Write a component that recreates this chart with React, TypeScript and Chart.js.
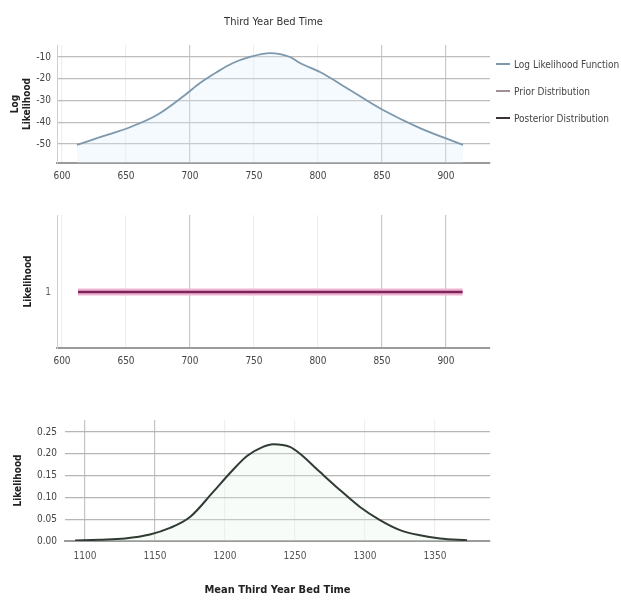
import React, { useEffect, useRef } from "react";
import { Chart, registerables } from "chart.js";

Chart.register(...registerables);

// ---- data ----
const TITLE = "Third Year Bed Time";
const SERIES_NAMES = ["Log Likelihood Function", "Prior Distribution", "Posterior Distribution"];
const SERIES_COLORS = ["#7d98ad", "#a48e98", "#3b3434"];

const TOP_X_TICKS = [600, 650, 700, 750, 800, 850, 900];
const TOP_Y_TICKS = [-10, -20, -30, -40, -50];
const LOGLIK_X = [611.7, 629.7, 653.1, 674.2, 696.1, 707.8, 721.1, 733.6, 746.9, 762.5, 778.1, 785.9, 801.6, 825.0, 850.8, 879.7, 913.3];
const LOGLIK_Y = [-50.4, -46.9, -42.3, -36.7, -27.5, -22.0, -16.9, -12.8, -10.0, -8.2, -10.0, -12.8, -16.9, -25.2, -34.4, -42.7, -50.4];

const MID_Y_TICKS = [1];
const PRIOR_X = [612.5, 913.0];
const PRIOR_Y = [1, 1];

const BOTTOM_X_TICKS = [1100, 1150, 1200, 1250, 1300, 1350];
const BOTTOM_Y_TICKS = [0, 0.05, 0.1, 0.15, 0.2, 0.25];
const POST_X = [1092.9, 1110.7, 1128.6, 1146.4, 1160.7, 1175.0, 1191.4, 1203.6, 1215.7, 1227.1, 1234.3, 1246.4, 1253.6, 1267.9, 1282.1, 1296.4, 1310.7, 1325.0, 1339.3, 1353.6, 1372.9];
const POST_Y = [0.001, 0.003, 0.006, 0.015, 0.03, 0.055, 0.112, 0.156, 0.195, 0.216, 0.222, 0.216, 0.2, 0.158, 0.117, 0.078, 0.048, 0.025, 0.013, 0.006, 0.002];

const Y_TITLE_TOP = ["Log", "Likelihood"];
const Y_TITLE_MID = "Likelihood";
const Y_TITLE_BOTTOM = "Likelihood";
const X_TITLE_BOTTOM = "Mean Third Year Bed Time";

const FONT = "'Liberation Sans Narrow', 'DejaVu Sans Condensed', 'Liberation Sans', sans-serif";

const toPts = (xs: number[], ys: number[]) => xs.map((x, i) => ({ x, y: ys[i] }));

const titlePlugin = {
  id: "centerTitle",
  afterDraw(chart: any) {
    const t = chart.options.plugins.centerTitle;
    if (!t || !t.text) return;
    const ctx = chart.ctx;
    const a = chart.chartArea;
    ctx.save();
    ctx.font = `11px ${FONT}`;
    ctx.fillStyle = "#333";
    ctx.textAlign = "center";
    ctx.textBaseline = "middle";
    ctx.fillText(t.text, (a.left + a.right) / 2, t.y);
    ctx.restore();
  },
};

function makeChart(canvas: HTMLCanvasElement, cfg: any) {
  return new Chart(canvas, { ...cfg, plugins: [titlePlugin] });
}

const tickFont = { family: FONT, size: 10 };
const axisTitleFont = { family: FONT, size: 10, weight: "bold" as const };

export default function App() {
  const c1 = useRef<HTMLCanvasElement>(null);
  const c2 = useRef<HTMLCanvasElement>(null);
  const c3 = useRef<HTMLCanvasElement>(null);

  useEffect(() => {
    const topVGrid = (ctx: any) => ([2, 5, 6].includes(ctx.index) ? "#c9c9c9" : "#efefef");
    const commonTopX = (min: number, max: number) => ({
      type: "linear",
      min,
      max,
      afterBuildTicks: (s: any) => {
        s.ticks = TOP_X_TICKS.map((v) => ({ value: v }));
      },
      afterFit: (s: any) => {
        s.height = 32;
      },
      ticks: { font: tickFont, color: "#444", padding: 7, callback: (v: any) => String(v) },
      grid: { color: topVGrid, drawTicks: false, lineWidth: 1.2 },
      border: { color: "#9a9a9a", width: 2 },
    });

    const ch1 = makeChart(c1.current!, {
      type: "line",
      data: {
        datasets: [
          {
            label: SERIES_NAMES[0],
            data: toPts(LOGLIK_X, LOGLIK_Y),
            borderColor: SERIES_COLORS[0],
            borderWidth: 1.8,
            pointRadius: 0,
            cubicInterpolationMode: "monotone",
            fill: "start",
            backgroundColor: "rgba(220,238,248,0.3)",
          },
        ],
      },
      options: {
        animation: false,
        responsive: false,
        layout: { padding: { top: 45, right: 131, left: 0, bottom: 0 } },
        plugins: { legend: { display: false }, tooltip: { enabled: false }, centerTitle: { text: TITLE, y: 22 } },
        scales: {
          x: commonTopX(596.1, 934.4),
          y: {
            type: "linear",
            min: -58.75,
            max: -4.5,
            afterBuildTicks: (s: any) => {
              s.ticks = TOP_Y_TICKS.map((v) => ({ value: v }));
            },
            afterFit: (s: any) => {
              s.width = 57;
            },
            ticks: { font: tickFont, color: "#444", padding: 6 },
            grid: { color: "#bdbdbd", lineWidth: 1.3, drawTicks: false },
            border: { color: "#cfcfcf", width: 1 },
            title: { display: true, text: Y_TITLE_TOP, font: axisTitleFont, color: "#222", padding: { top: 9, bottom: 0 } },
          },
        },
      },
    });

    const ch2 = makeChart(c2.current!, {
      type: "line",
      data: {
        datasets: [
          {
            label: SERIES_NAMES[2],
            data: toPts(PRIOR_X, PRIOR_Y),
            borderColor: "#7b2456",
            borderWidth: 2.5,
            pointRadius: 0,
            order: 0,
          },
          {
            label: SERIES_NAMES[1],
            data: toPts(PRIOR_X, PRIOR_Y),
            borderColor: "#f2b3d4",
            borderWidth: 7,
            pointRadius: 0,
            order: 1,
          },
        ],
      },
      options: {
        animation: false,
        responsive: false,
        layout: { padding: { top: 20, right: 131, left: 0, bottom: 0 } },
        plugins: { legend: { display: false }, tooltip: { enabled: false } },
        scales: {
          x: commonTopX(596.1, 934.4),
          y: {
            type: "linear",
            min: 0,
            max: 2.375,
            afterBuildTicks: (s: any) => {
              s.ticks = MID_Y_TICKS.map((v) => ({ value: v }));
            },
            afterFit: (s: any) => {
              s.width = 57;
            },
            ticks: { font: tickFont, color: "#666", padding: 6 },
            grid: { display: false, drawTicks: false },
            border: { color: "#cfcfcf", width: 1 },
            title: { display: true, text: Y_TITLE_MID, font: axisTitleFont, color: "#222", padding: { top: 22, bottom: 0 } },
          },
        },
      },
    });

    const ch3 = makeChart(c3.current!, {
      type: "line",
      data: {
        datasets: [
          {
            label: SERIES_NAMES[2],
            data: toPts(POST_X, POST_Y),
            borderColor: "#2f3b33",
            borderWidth: 2,
            pointRadius: 0,
            cubicInterpolationMode: "monotone",
            fill: "start",
            backgroundColor: "rgba(228,244,231,0.3)",
          },
        ],
      },
      options: {
        animation: false,
        responsive: false,
        layout: { padding: { top: 30, right: 131, left: 0, bottom: 0 } },
        plugins: { legend: { display: false }, tooltip: { enabled: false } },
        scales: {
          x: {
            type: "linear",
            min: 1085.7,
            max: 1389.3,
            afterBuildTicks: (s: any) => {
              s.ticks = BOTTOM_X_TICKS.map((v) => ({ value: v }));
            },
            afterFit: (s: any) => {
              s.height = 59;
            },
            ticks: { font: tickFont, color: "#555", padding: 9, callback: (v: any) => String(v) },
            grid: { color: (ctx: any) => ([0, 1].includes(ctx.index) ? "#c4c4c4" : "#efefef"), drawTicks: false, lineWidth: 1.2 },
            border: { color: "#9a9a9a", width: 2 },
            title: { display: true, text: X_TITLE_BOTTOM, font: { family: FONT, size: 11, weight: "bold" }, color: "#222", padding: { top: 4, bottom: 3 } },
          },
          y: {
            type: "linear",
            min: 0,
            max: 0.2775,
            afterBuildTicks: (s: any) => {
              s.ticks = BOTTOM_Y_TICKS.map((v) => ({ value: v }));
            },
            afterFit: (s: any) => {
              s.width = 65;
            },
            ticks: { font: tickFont, color: "#444", padding: 8, callback: (v: any) => Number(v).toFixed(2) },
            grid: { color: "#b5b5b5", lineWidth: 1.3, drawTicks: false },
            border: { display: false },
            title: { display: true, text: Y_TITLE_BOTTOM, font: axisTitleFont, color: "#222", padding: { top: 12, bottom: 0 } },
          },
        },
      },
    });

    return () => {
      ch1.destroy();
      ch2.destroy();
      ch3.destroy();
    };
  }, []);

  const legendTop = [64, 91, 118];

  return (
    <div style={{ position: "absolute", left: 0, top: 0, width: 621, height: 614, background: "#fff", overflow: "hidden" }}>
      <canvas ref={c1} width={621} height={195} style={{ position: "absolute", left: 0, top: 0 }} />
      <canvas ref={c2} width={621} height={185} style={{ position: "absolute", left: 0, top: 195 }} />
      <canvas ref={c3} width={621} height={210} style={{ position: "absolute", left: 0, top: 390 }} />
      {SERIES_NAMES.map((name, i) => (
        <div
          key={name}
          style={{
            position: "absolute",
            left: 496,
            top: legendTop[i] - 7,
            height: 14,
            display: "flex",
            alignItems: "center",
            whiteSpace: "nowrap",
            fontFamily: FONT,
            fontSize: 10,
            color: "#444",
          }}
        >
          <span style={{ display: "inline-block", width: 14, height: 2, background: SERIES_COLORS[i], marginRight: 4 }} />
          {name}
        </div>
      ))}
    </div>
  );
}
